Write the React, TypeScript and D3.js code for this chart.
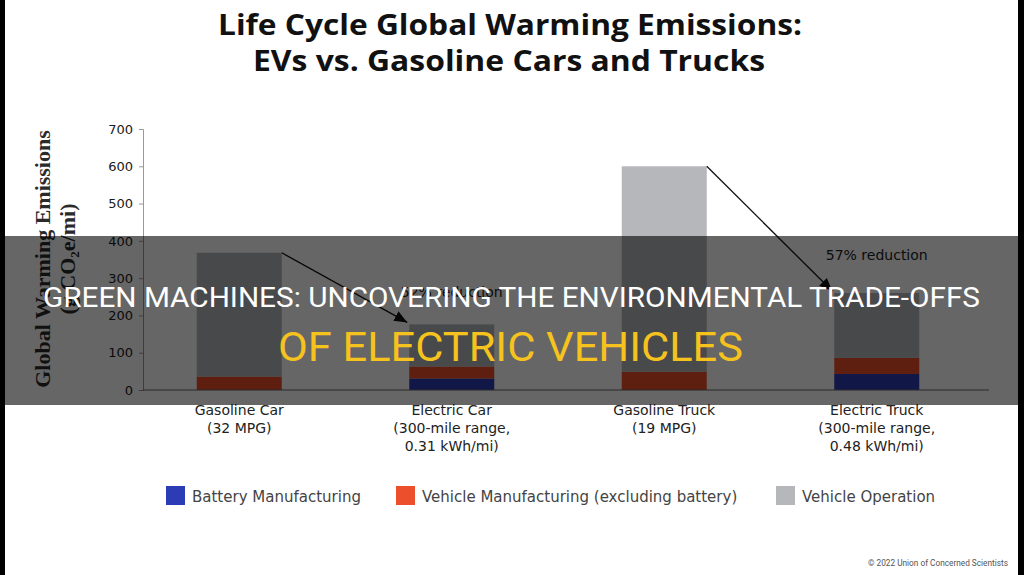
import * as d3 from "d3";
import { useEffect, useRef } from "react";

// chart data (g CO2e/mi)
const categories = ["Gasoline Car", "Electric Car", "Gasoline Truck", "Electric Truck"];
const categoryDetails = [
  ["(32 MPG)"],
  ["(300-mile range,", "0.31 kWh/mi)"],
  ["(19 MPG)"],
  ["(300-mile range,", "0.48 kWh/mi)"],
];
const batteryMfg = [0, 31, 0, 43];
const vehicleMfg = [36, 32, 49, 43];
const vehicleOperation = [332, 113, 551, 174];
const seriesNames = ["Battery Manufacturing", "Vehicle Manufacturing (excluding battery)", "Vehicle Operation"];
const seriesColors = ["#2c3cb4", "#ec4f2c", "#b5b7ba"];
const yTicks = [0, 100, 200, 300, 400, 500, 600, 700];
const reductions = [
  { from: 0, to: 1, label: "52% reduction", dy: 27 },
  { from: 2, to: 3, label: "57% reduction", dy: 33 },
];

const width = 1024;
const height = 575;
const labelFont = "'DejaVu Sans', sans-serif";

function App() {
  const ref = useRef<SVGSVGElement>(null);

  useEffect(() => {
    const svg = d3.select(ref.current);
    svg.selectAll("*").remove();

    const keys = ["battery", "vehicle", "operation"];
    const table = categories.map((c, i) => ({
      name: c,
      battery: batteryMfg[i],
      vehicle: vehicleMfg[i],
      operation: vehicleOperation[i],
    }));
    const stacked = d3.stack<any>().keys(keys)(table);
    const totals = table.map((d) => d.battery + d.vehicle + d.operation);

    // scales
    const x = d3.scaleBand().domain(categories).range([133, 983]).paddingInner(0.6).paddingOuter(0.3);
    const y = d3.scaleLinear().domain([0, 700]).range([390, 129]);

    svg.append("rect").attr("width", width).attr("height", height).attr("fill", "#ffffff");

    // title
    const title = svg.append("g").attr("font-family", "'Open Sans', sans-serif").attr("font-weight", 700).attr("fill", "#111");
    title.append("text").attr("x", 218).attr("y", 35).attr("font-size", 28)
      .attr("textLength", 584).attr("lengthAdjust", "spacingAndGlyphs")
      .text("Life Cycle Global Warming Emissions:");
    title.append("text").attr("x", 253).attr("y", 71).attr("font-size", 28)
      .attr("textLength", 512).attr("lengthAdjust", "spacingAndGlyphs")
      .text("EVs vs. Gasoline Cars and Trucks");

    // y axis
    const yAxis = svg.append("g").attr("transform", "translate(143,0)")
      .call(d3.axisLeft(y).tickValues(yTicks).tickSize(4).tickPadding(6));
    yAxis.select(".domain").attr("stroke", "#999");
    yAxis.selectAll(".tick line").attr("stroke", "#999");
    yAxis.selectAll(".tick text").attr("font-family", labelFont).attr("font-size", 13).attr("fill", "#1a1a1a");

    // y label
    const yLabel = svg.append("g").attr("font-family", "'Liberation Serif', serif").attr("font-weight", 700)
      .attr("font-size", 22).attr("fill", "#2a2a2a").attr("text-anchor", "middle");
    yLabel.append("text").attr("transform", "translate(50,259) rotate(-90)").text("Global Warming Emissions");
    const l2 = yLabel.append("text").attr("transform", "translate(75,259) rotate(-90)");
    l2.append("tspan").text("(g CO");
    l2.append("tspan").attr("font-size", 13).attr("dy", 4).text("2");
    l2.append("tspan").attr("dy", -4).text("e/mi)");

    // bars
    svg.append("g").selectAll("g").data(stacked).join("g")
      .attr("fill", (_d, i) => seriesColors[i])
      .selectAll("rect").data((d) => d).join("rect")
      .attr("x", (d: any) => x(d.data.name)!)
      .attr("width", x.bandwidth())
      .attr("y", (d) => y(d[1]))
      .attr("height", (d) => y(d[0]) - y(d[1]));

    // x axis line
    svg.append("line").attr("x1", 143).attr("x2", 989).attr("y1", y(0)).attr("y2", y(0))
      .attr("stroke", "#666").attr("stroke-width", 1);

    // category labels
    const xl = svg.append("g").attr("font-family", labelFont).attr("font-size", 14).attr("fill", "#222").attr("text-anchor", "middle");
    categories.forEach((c, i) => {
      const cx = x(c)! + x.bandwidth() / 2;
      [c, ...categoryDetails[i]].forEach((line, j) => {
        xl.append("text").attr("x", cx).attr("y", 415 + j * 18).text(line);
      });
    });

    // reduction arrows
    const defs = svg.append("defs");
    defs.append("marker").attr("id", "arrow").attr("viewBox", "0 0 12 10").attr("refX", 12).attr("refY", 5)
      .attr("markerWidth", 13).attr("markerHeight", 11).attr("markerUnits", "userSpaceOnUse").attr("orient", "auto")
      .append("path").attr("d", "M0,0L12,5L0,10Z").attr("fill", "#111");
    reductions.forEach((r) => {
      const x1 = x(categories[r.from])! + x.bandwidth();
      const y1 = y(totals[r.from]);
      const x2 = x(categories[r.to])! - 2;
      const y2 = y(totals[r.to]) - 2;
      svg.append("line").attr("x1", x1).attr("y1", y1).attr("x2", x2).attr("y2", y2)
        .attr("stroke", "#111").attr("stroke-width", 1.3).attr("marker-end", "url(#arrow)");
      svg.append("text").attr("x", x(categories[r.to])! + x.bandwidth() / 2).attr("y", y(totals[r.to]) - r.dy)
        .attr("text-anchor", "middle").attr("font-family", labelFont).attr("font-size", 14).attr("fill", "#222")
        .text(r.label);
    });

    // legend
    const legendX = [166, 396, 776];
    const lg = svg.append("g").attr("font-family", labelFont).attr("font-size", 15).attr("fill", "#444");
    seriesNames.forEach((s, i) => {
      lg.append("rect").attr("x", legendX[i]).attr("y", 486).attr("width", 19).attr("height", 19).attr("fill", seriesColors[i]);
      lg.append("text").attr("x", legendX[i] + 26).attr("y", 502).text(s);
    });

    // copyright
    svg.append("text").attr("x", 1008).attr("y", 566).attr("text-anchor", "end")
      .attr("font-family", "Roboto, sans-serif").attr("font-size", 8.5).attr("fill", "#555")
      .attr("textLength", 140).attr("lengthAdjust", "spacingAndGlyphs")
      .text("\u00a9 2022 Union of Concerned Scientists");

    // frame edges
    svg.append("rect").attr("x", 0).attr("y", 0).attr("width", 5).attr("height", height).attr("fill", "#000");
    svg.append("rect").attr("x", 1018).attr("y", 0).attr("width", 6).attr("height", height).attr("fill", "#000");

    // banner overlay
    svg.append("rect").attr("x", 0).attr("y", 236).attr("width", width).attr("height", 169).attr("fill", "rgba(0,0,0,0.6)");
    const banner = svg.append("g").attr("font-family", "Roboto, sans-serif").attr("font-weight", 400);
    banner.append("text").attr("x", 43).attr("y", 307).attr("font-size", 28).attr("fill", "#ffffff")
      .attr("textLength", 937).attr("lengthAdjust", "spacingAndGlyphs")
      .text("GREEN MACHINES: UNCOVERING THE ENVIRONMENTAL TRADE-OFFS");
    banner.append("text").attr("x", 278).attr("y", 361).attr("font-size", 40).attr("fill", "#f6c21d")
      .attr("textLength", 465).attr("lengthAdjust", "spacingAndGlyphs")
      .text("OF ELECTRIC VEHICLES");

    return () => {
      svg.selectAll("*").remove();
    };
  }, []);

  return (
    <svg
      ref={ref}
      width={width}
      height={height}
      style={{ position: "absolute", left: 0, top: 0, display: "block" }}
    />
  );
}

export default App;
